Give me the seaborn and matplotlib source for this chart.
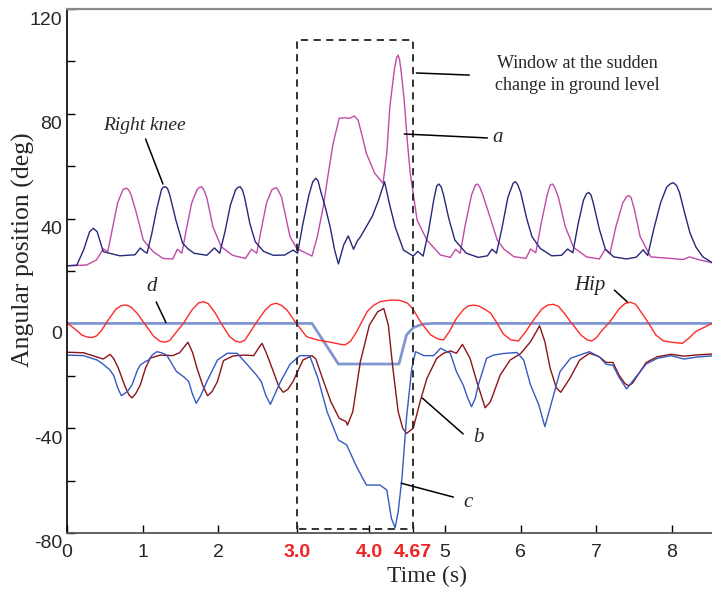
import numpy as np
import pandas as pd
import matplotlib
matplotlib.use("Agg")
import matplotlib.pyplot as plt
import matplotlib.transforms as mtransforms
import seaborn as sns

sns.set_theme(style="white")
plt.rcParams['font.family'] = ['Liberation Sans', 'DejaVu Sans']
plt.rcParams['axes.unicode_minus'] = False
plt.rcParams['xtick.bottom'] = True
plt.rcParams['ytick.left'] = True
plt.rcParams['xtick.direction'] = 'in'
plt.rcParams['ytick.direction'] = 'in'

# ---- data (time in s, angle in deg) ----
right_knee_t = [0, 0.13, 0.22, 0.30, 0.35, 0.40, 0.48, 0.56, 0.70, 0.80, 0.90, 0.97, 1.02, 1.06, 1.12, 1.19, 1.25, 1.27,
                1.30, 1.33, 1.36, 1.44, 1.53, 1.60, 1.68, 1.85, 1.95, 2.02, 2.09, 2.16, 2.23, 2.26, 2.29, 2.32, 2.35,
                2.42, 2.49, 2.60, 2.73, 2.88, 2.99, 3.05, 3.12, 3.20, 3.25, 3.29, 3.32, 3.36, 3.42, 3.48, 3.54, 3.59,
                3.66, 3.72, 3.79, 3.84, 3.88, 3.96, 4.04, 4.12, 4.20, 4.27, 4.34, 4.45, 4.58, 4.64, 4.71, 4.78, 4.85,
                4.89, 4.92, 4.95, 4.98, 5.05, 5.13, 5.28, 5.44, 5.56, 5.62, 5.68, 5.75, 5.83, 5.90, 5.93, 5.96, 6.00,
                6.08, 6.15, 6.26, 6.41, 6.54, 6.62, 6.69, 6.76, 6.83, 6.87, 6.90, 6.93, 6.96, 7.04, 7.12, 7.23, 7.40,
                7.53, 7.62, 7.68, 7.76, 7.85, 7.93, 7.98, 8.02, 8.06, 8.10, 8.17, 8.24, 8.32, 8.41, 8.53]
right_knee = [22.0, 22.2, 28, 35, 36.3, 35, 27.4, 26.8, 25.8, 26.0, 26.2, 28.8, 27.5, 26.8, 34, 44, 51, 51.9,
              52.2, 51.5, 49, 39.5, 30.6, 28.5, 26.8, 26.0, 28.8, 26.8, 35, 45, 51, 51.9, 52.2, 51, 48,
              38, 31.2, 27.5, 26.0, 26.1, 28.0, 26.8, 38, 49, 54, 55.4, 54.5, 50, 44, 36.9, 28, 22.7,
              30, 33.4, 28.3, 31.5, 33.0, 37, 41, 47, 54.1, 45, 36.9, 28.0, 25.7, 27.5, 25.7, 35, 47,
              52.5, 53.2, 52, 49, 40, 31.8, 26.8, 25.2, 25.8, 28.3, 26.8, 36, 48, 53.5, 54.1, 53, 50,
              40, 33.1, 28.6, 25.8, 26.0, 28.4, 27.0, 38, 47, 49.5, 50.0, 49, 46, 36, 28.3, 25.4, 24.6,
              25.3, 28.1, 25.9, 36, 46, 52, 53.3, 53.7, 52.7, 50, 42, 34.4, 29, 25.4, 23.2]

knee_a_t = [0, 0.26, 0.39, 0.48, 0.54, 0.60, 0.67, 0.74, 0.76, 0.79, 0.82, 0.85, 0.92, 1.01, 1.14, 1.27, 1.40, 1.46,
            1.52, 1.58, 1.65, 1.72, 1.75, 1.78, 1.81, 1.85, 1.93, 2.04, 2.19, 2.36, 2.44, 2.51, 2.57, 2.64, 2.71,
            2.74, 2.77, 2.80, 2.84, 2.95, 3.04, 3.15, 3.24, 3.31, 3.39, 3.46, 3.52, 3.60, 3.67, 3.74, 3.80, 3.85,
            3.90, 3.96, 4.07, 4.18, 4.23, 4.27, 4.33, 4.36, 4.38, 4.40, 4.42, 4.46, 4.50, 4.54, 4.63, 4.76, 4.94,
            5.07, 5.14, 5.20, 5.27, 5.35, 5.40, 5.43, 5.46, 5.50, 5.60, 5.69, 5.78, 5.91, 6.07, 6.13, 6.20, 6.27,
            6.35, 6.39, 6.42, 6.45, 6.50, 6.59, 6.70, 6.87, 7.04, 7.12, 7.18, 7.26, 7.35, 7.40, 7.43, 7.46, 7.50,
            7.58, 7.72, 7.98, 8.15, 8.23, 8.37, 8.53]
knee_a = [22.0, 22.3, 24.2, 28.4, 27.4, 36, 46, 51, 51.4, 51.6, 50.8, 49, 42.0, 31.8, 27.4, 24.8, 24.6, 28.3,
          26.8, 36, 46, 51, 51.9, 52.2, 51, 48, 36.9, 29.3, 26.0, 24.8, 28.3, 26.8, 36, 46, 51,
          51.5, 51.8, 50.5, 48, 33.1, 28.6, 27.0, 25.7, 33, 44.6, 58, 68.7, 78.3, 78.5, 78.3, 79.2, 77.6,
          72, 64.9, 57.3, 53.5, 65, 82.7, 97, 101.5, 102.4, 100.5, 96, 85.3, 70, 57.3, 39.5, 31.8, 26.1,
          25.2, 28.3, 26.8, 38, 49, 52.8, 53.2, 52, 49, 40.1, 31.8, 28.3, 25.5, 24.8, 28.4, 27.0, 38,
          49, 52.8, 53.2, 52, 48, 36.9, 29.0, 25.4, 24.6, 28.3, 26.6, 37, 46, 48.4, 48.8, 48, 44,
          33.1, 25.4, 24.8, 24.4, 25.4, 24.2, 23.2]

hip_t = [0, 0.10, 0.20, 0.27, 0.33, 0.39, 0.45, 0.55, 0.65, 0.72, 0.79, 0.85, 0.93, 1.02, 1.15, 1.23, 1.30, 1.36,
         1.45, 1.54, 1.65, 1.74, 1.81, 1.87, 1.96, 2.04, 2.15, 2.23, 2.29, 2.35, 2.43, 2.52, 2.62, 2.70, 2.77,
         2.84, 2.91, 3.04, 3.17, 3.31, 3.49, 3.62, 3.68, 3.75, 3.83, 3.97, 4.05, 4.14, 4.28, 4.40, 4.50, 4.57,
         4.68, 4.81, 4.91, 4.98, 5.06, 5.15, 5.25, 5.31, 5.37, 5.44, 5.52, 5.60, 5.68, 5.77, 5.87, 5.97, 6.07,
         6.17, 6.28, 6.36, 6.43, 6.50, 6.58, 6.66, 6.80, 6.88, 6.94, 7.00, 7.08, 7.18, 7.30, 7.38, 7.45, 7.52,
         7.60, 7.68, 7.79, 7.89, 8.00, 8.14, 8.23, 8.31, 8.44, 8.53]
hip = [0.2, -2, -4.5, -5.2, -5.4, -4.8, -3, 1.5, 5.5, 6.8, 7.0, 6.2, 3.8, 0.2, -5, -6.8, -7.2, -6.5,
       -3.2, 0, 5, 7.8, 8.3, 7.5, 4, 0, -5, -6.8, -7.2, -6.5, -3, 1, 5, 7.2, 7.7,
       6.8, 5.1, -0.3, -5.1, -6.3, -7.2, -8.0, -8.2, -6.8, -3.2, 4.5, 6.8, 8.3, 8.9, 8.8, 7.8, 5.7,
       0.4, -4.4, -6.0, -6.3, -3, 1.9, 5.5, 6.7, 7.0, 6.7, 5.5, 4.0, 0.5, -4.0, -6.3, -6.7, -3,
       1.3, 5.5, 7.0, 7.3, 6.5, 3.8, 0.6, -4.5, -6.3, -6.7, -5.5, -2.5, 0.6, 5.5, 7.6, 8.1, 7.3,
       4.0, 0.6, -4.5, -6.7, -7.2, -7.6, -5.5, -3.2, -1.3, 0]

d_t = [0, 3.24, 3.59, 4.39, 4.44, 4.49, 4.58, 4.71, 4.85, 8.53]
d = [0, 0, -15.5, -15.5, -10, -4.4, -1.6, -0.2, 0, 0]

b_t = [0, 0.22, 0.35, 0.48, 0.57, 0.62, 0.68, 0.77, 0.82, 0.86, 0.91, 0.97, 1.04, 1.10, 1.23, 1.40, 1.49, 1.55,
       1.60, 1.66, 1.72, 1.80, 1.86, 1.92, 1.99, 2.07, 2.20, 2.34, 2.47, 2.53, 2.58, 2.64, 2.73, 2.80, 2.86,
       2.92, 2.99, 3.12, 3.24, 3.29, 3.38, 3.49, 3.60, 3.69, 3.71, 3.78, 3.88, 4.00, 4.11, 4.19, 4.25, 4.31,
       4.38, 4.44, 4.49, 4.58, 4.67, 4.76, 4.89, 4.98, 5.07, 5.15, 5.23, 5.33, 5.42, 5.53, 5.60, 5.73, 5.86,
       6.00, 6.13, 6.20, 6.25, 6.32, 6.39, 6.47, 6.53, 6.65, 6.78, 6.91, 7.04, 7.13, 7.22, 7.30, 7.38, 7.43,
       7.48, 7.55, 7.66, 7.81, 7.99, 8.16, 8.34, 8.53]
b = [-11.0, -11.2, -12.4, -13.6, -11.8, -13.5, -17.1, -24.2, -27.3, -28.4, -26.8, -23.5, -17, -13.3, -12.1, -12.3,
     -11.2, -9.0, -7.2, -11.0, -17.1, -24, -27.6, -26.0, -22.2, -14.2, -12.4, -12.1, -12.3, -9.6, -7.6, -11.5,
     -18.4, -24, -26.3, -25.2, -22.2, -14.0, -12.3, -13.5, -21.0, -29.9, -36.2, -37.5, -38.8, -33.7, -14.6, -0.6,
     4.5, 5.7, -0.6, -17.1, -33.7, -40.0, -42.0, -40.0, -29.9, -21.0, -13.3, -11.4, -10.5, -11.4, -8.0, -13.3,
     -22.2, -32.2, -29.9, -19.7, -14.0, -11.5, -7.0, -3.5, -0.9, -7, -17.1, -24.5, -26.3, -21.0, -14.0, -11.4,
     -12.7, -14.9, -14.9, -19.7, -23.0, -23.8, -22.8, -19.7, -14.9, -12.7, -11.8, -12.5, -12.0, -11.7]

c_t = [0, 0.22, 0.40, 0.48, 0.57, 0.62, 0.67, 0.72, 0.80, 0.86, 0.93, 0.97, 1.04, 1.08, 1.13, 1.19, 1.25, 1.32,
       1.45, 1.55, 1.61, 1.66, 1.71, 1.77, 1.85, 1.99, 2.12, 2.25, 2.39, 2.50, 2.57, 2.63, 2.69, 2.75, 2.82,
       2.95, 3.08, 3.21, 3.32, 3.44, 3.59, 3.70, 3.83, 3.96, 4.14, 4.23, 4.29, 4.34, 4.38, 4.43, 4.49, 4.56,
       4.61, 4.72, 4.85, 4.94, 5.07, 5.15, 5.24, 5.30, 5.35, 5.40, 5.44, 5.55, 5.64, 5.77, 5.95, 6.04, 6.13,
       6.24, 6.32, 6.41, 6.52, 6.66, 6.78, 6.91, 7.04, 7.13, 7.22, 7.30, 7.40, 7.55, 7.66, 7.81, 7.99, 8.16,
       8.34, 8.53]
c = [-12.1, -12.3, -14.0, -15.6, -17.8, -20.0, -24.5, -27.6, -26.0, -23.5, -18.0, -15.9, -14.5, -14.0, -12.0,
     -10.8, -11.2, -12.1, -18.4, -20.5, -22.2, -27.0, -30.5, -27.5, -22.2, -14.0, -11.4, -11.4, -15.9, -19.5,
     -22.2, -27.5, -30.9, -27.0, -22.5, -15.6, -12.3, -12.3, -21.0, -33.7, -44.5, -46.4, -54.7, -61.7, -61.7,
     -63.6, -74.4, -78.0, -71.9, -59.1, -36.2, -17.1, -10.8, -12.3, -12.3, -9.5, -11.4, -18.4, -23.5, -28.5,
     -31.8, -28.5, -23.5, -13.3, -12.1, -11.5, -11.1, -14.0, -23.5, -31.1, -39.4, -30, -18.4, -13.3, -12.1,
     -10.8, -12.8, -15.6, -16.0, -20.5, -25.0, -19.5, -15.5, -13.3, -12.3, -13.6, -12.8, -12.4]

# window at the sudden change in ground level
win_start, win_end = 3.04, 4.58
win_low, win_high = -78.5, 108

x_ticks = [0, 1, 2, 3.04, 4, 4.58, 5, 6, 7, 8]
x_tick_labels = ['0', '1', '2', '3.0', '4.0', '4.67', '5', '6', '7', '8']
red_ticks = ['3.0', '4.0', '4.67']

# ---- plot ----
fig = plt.figure(figsize=(7.12, 5.92), dpi=100)
ax = fig.add_axes([0.094, 0.0997, 0.906, 0.885])

series = [
    (knee_a_t, knee_a, '#c04aa8', 1.0),
    (right_knee_t, right_knee, '#262878', 1.0),
    (d_t, d, '#8096d2', 2.0),
    (hip_t, hip, '#ff2a2a', 1.0),
    (b_t, b, '#8a1418', 1.0),
    (c_t, c, '#3559c0', 1.0),
]
for tt, yy, col, lw in series:
    sns.lineplot(x=tt, y=yy, ax=ax, color=col, linewidth=lw, sort=False, estimator=None)

# dashed window
ax.plot([win_start, win_start, win_end, win_end, win_start],
        [win_low, win_high, win_high, win_low, win_low],
        color='#222222', linestyle=(0, (4, 3)), linewidth=1.3)

ax.set_xlim(0, 8.53)
ax.set_ylim(-80, 120)

ax.set_xticks(x_ticks)
ax.set_xticklabels(x_tick_labels)
for lab in ax.get_xticklabels():
    if lab.get_text() in red_ticks:
        lab.set_color('#ee2222')
        lab.set_fontweight('bold')
ax.set_yticks([-80, -40, 0, 40, 80, 120])
ax.set_yticks([-60, -20, 20, 60, 100], minor=True)
ax.tick_params(axis='both', which='both', direction='in', labelsize=14, color='black',
               bottom=True, left=True, width=1.0)
ax.tick_params(axis='both', which='major', length=6)
ax.tick_params(axis='y', which='minor', length=6)
ax.tick_params(axis='x', pad=8)

# y tick labels sit a little below their ticks in the original
offset = mtransforms.ScaledTranslation(0, -9 / 100, fig.dpi_scale_trans)
for lab in ax.get_yticklabels():
    lab.set_transform(lab.get_transform() + offset)

ax.spines['right'].set_visible(False)
ax.spines['top'].set_color('#888888')
ax.spines['top'].set_linewidth(1.6)
ax.spines['left'].set_color('black')
ax.spines['left'].set_linewidth(1.2)
ax.spines['bottom'].set_color('#555555')
ax.spines['bottom'].set_linewidth(1.3)

serif = ['Liberation Serif', 'DejaVu Serif']
ax.set_xlabel('Time (s)', fontsize=17, family=serif)
ax.set_ylabel('Angular position (deg)', fontsize=18.5, family=serif)
ax.xaxis.set_label_coords(0.558, -0.062)
ax.yaxis.set_label_coords(-0.05, 0.54)

# annotations
line_kw = dict(arrowstyle='-', color='black', lw=1.1, shrinkA=0, shrinkB=0)
ax.annotate('', xy=(1.27, 53.2), xytext=(1.04, 70.4), arrowprops=line_kw)
ax.text(1.03, 75.7, 'Right knee', fontsize=14, style='italic', family=serif, ha='center', va='center')

ax.annotate('', xy=(4.46, 72.3), xytext=(5.56, 70.8), arrowprops=line_kw)
ax.text(5.70, 70.8, 'a', fontsize=15, style='italic', family=serif, ha='center', va='center')

ax.annotate('', xy=(4.62, 95.6), xytext=(5.32, 94.8), arrowprops=line_kw)
ax.text(6.75, 95, 'Window at the sudden\nchange in ground level', fontsize=13, family=serif,
        ha='center', va='center', linespacing=1.4)

ax.annotate('', xy=(1.31, 0.3), xytext=(1.18, 8.2), arrowprops=line_kw)
ax.text(1.12, 13.9, 'd', fontsize=15, style='italic', family=serif, ha='center', va='center')

ax.annotate('', xy=(7.41, 8.2), xytext=(7.24, 12.7), arrowprops=line_kw)
ax.text(6.92, 14.6, 'Hip', fontsize=15, style='italic', family=serif, ha='center', va='center')

ax.annotate('', xy=(4.70, -28.5), xytext=(5.24, -42.2), arrowprops=line_kw)
ax.text(5.44, -43.4, 'b', fontsize=15, style='italic', family=serif, ha='center', va='center')

ax.annotate('', xy=(4.42, -61.0), xytext=(5.11, -66.3), arrowprops=line_kw)
ax.text(5.30, -68.2, 'c', fontsize=15, style='italic', family=serif, ha='center', va='center')

fig.savefig('out.png', dpi=100)
